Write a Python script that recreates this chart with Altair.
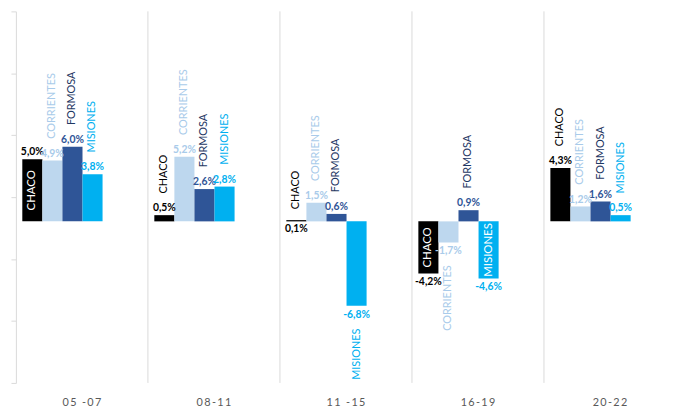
import altair as alt
import pandas as pd
import numpy as np

periods = ["05 -07", "08-11", "11 -15", "16-19", "20-22"]
provinces = ["CHACO", "CORRIENTES", "FORMOSA", "MISIONES"]
chaco = [5.0, 0.5, 0.1, -4.2, 4.3]
corrientes = [4.9, 5.2, 1.5, -1.7, 1.2]
formosa = [6.0, 2.6, 0.6, 0.9, 1.6]
misiones = [3.8, 2.8, -6.8, -4.6, 0.5]

# where the province name sits beside each bar
name_place_chaco = ["inside", "above", "top", "inside", "above"]
name_place_corrientes = ["above", "above", "above", "below", "above"]
name_place_formosa = ["above", "above", "above", "above", "above"]
name_place_misiones = ["above", "above", "below", "inside", "above"]
# which side of the bar the value label sits on
value_side_chaco = ["up", "up", "down", "down", "up"]
value_side_corrientes = ["up", "up", "up", "down", "up"]
value_side_formosa = ["up", "up", "up", "up", "up"]
value_side_misiones = ["up", "up", "down", "down", "up"]

bar_colors = ["#000000", "#BDD7EE", "#2F5597", "#00B0F0"]
value_colors = ["#000000", "#A9CBEA", "#2F5597", "#00B0F0"]
name_colors = ["#000000", "#A9CBEA", "#1F3864", "#00B0F0"]

series = [chaco, corrientes, formosa, misiones]
places = [name_place_chaco, name_place_corrientes, name_place_formosa, name_place_misiones]
sides = [value_side_chaco, value_side_corrientes, value_side_formosa, value_side_misiones]

rows = []
for pi, prov in enumerate(provinces):
    for ti, per in enumerate(periods):
        v = series[pi][ti]
        rows.append({
            "period": per,
            "province": prov,
            "value": v,
            "vlabel": f"{v:.1f}%".replace(".", ","),
            "place": places[pi][ti],
            "vside": sides[pi][ti],
        })
df = pd.DataFrame(rows)

FONT = "Lato"
y_domain = [-13.0, 16.9]
y_ticks = list(np.linspace(y_domain[0], y_domain[1], 7))

x_scale = alt.Scale(domain=periods, paddingInner=0, paddingOuter=0)
# two empty slots after the four bars leave the right part of each group blank
xo_scale = alt.Scale(domain=provinces + ["_gap1", "_gap2"], paddingInner=0, paddingOuter=0.29, align=0.55)
y_scale = alt.Scale(domain=y_domain, nice=False, zero=False)

x_axis = alt.Axis(title=None, labelAngle=0, domain=False, ticks=False, grid=False,
                  labelColor="#595959", labelFontSize=11, labelPadding=14, labelFont=FONT,
                  labelExpr="join(split(datum.label, ''), '\u2009')")
y_axis = alt.Axis(title=None, values=y_ticks, labels=False, grid=False,
                  domainColor="#D9D9D9", tickColor="#D9D9D9", tickSize=5)

base = alt.Chart(df)

bars = base.mark_bar().encode(
    x=alt.X("period:N", scale=x_scale, axis=x_axis),
    xOffset=alt.XOffset("province:N", scale=xo_scale),
    y=alt.Y("value:Q", scale=y_scale, axis=y_axis),
    y2=alt.datum(0),
    color=alt.Color("province:N", scale=alt.Scale(domain=provinces, range=bar_colors), legend=None),
)

seps = alt.Chart(pd.DataFrame({"period": periods[1:]})).mark_rule(color="#D9D9D9", strokeWidth=1).encode(
    x=alt.X("period:N", scale=x_scale, bandPosition=0),
)

def txt_enc(yfield, colors):
    return dict(
        x=alt.X("period:N", scale=x_scale),
        xOffset=alt.XOffset("province:N", scale=xo_scale),
        y=alt.Y(yfield, scale=y_scale),
        color=alt.Color("province:N", scale=alt.Scale(domain=provinces, range=colors), legend=None),
    )

val_up = base.transform_filter(alt.datum.vside == "up").mark_text(
    baseline="bottom", dy=-2, fontSize=10.5, fontWeight="bold", font=FONT
).encode(text="vlabel:N", **txt_enc("value:Q", value_colors))

val_down = base.transform_filter(alt.datum.vside == "down").mark_text(
    baseline="top", dy=4, fontSize=10.5, fontWeight="bold", font=FONT
).encode(text="vlabel:N", **txt_enc("value:Q", value_colors))

name_above = base.transform_filter(alt.datum.place == "above").mark_text(
    angle=270, align="left", baseline="middle", dx=22, fontSize=11, font=FONT
).encode(text="province:N", **txt_enc("value:Q", name_colors))

name_top = base.transform_filter(alt.datum.place == "top").mark_text(
    angle=270, align="left", baseline="middle", dx=11, fontSize=11, font=FONT
).encode(text="province:N", **txt_enc("value:Q", name_colors))

name_below = base.transform_filter(alt.datum.place == "below").mark_text(
    angle=270, align="right", baseline="middle", dx=-23, fontSize=11, font=FONT
).encode(text="province:N", **txt_enc("value:Q", name_colors))

name_inside = base.transform_filter(alt.datum.place == "inside").transform_calculate(
    mid="datum.value / 2"
).mark_text(
    angle=270, align="center", baseline="middle", fontSize=11.5, font=FONT, color="#FFFFFF"
).encode(
    text="province:N",
    x=alt.X("period:N", scale=x_scale),
    xOffset=alt.XOffset("province:N", scale=xo_scale),
    y=alt.Y("mid:Q", scale=y_scale),
)

chart = alt.layer(
    bars, seps, val_up, val_down, name_above, name_top, name_below, name_inside
).resolve_scale(color="independent").properties(
    width=668, height=376, background="#FFFFFF",
    padding={"left": 2, "top": 0, "right": 0, "bottom": 0},
).configure_view(stroke=None)

chart.save("out.html", embed_options={"renderer": "svg", "actions": False})
